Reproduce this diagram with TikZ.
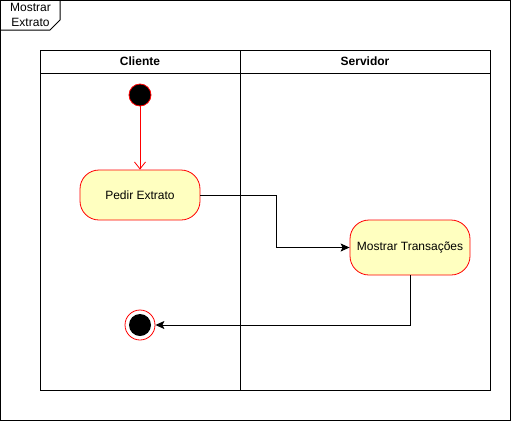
\documentclass[tikz,border=0pt]{standalone}
\usepackage{fontspec}
\setmainfont{Liberation Sans}
\usepackage{xcolor}
\usetikzlibrary{arrows.meta, positioning}

\definecolor{actfill}{HTML}{FFFFC0}
\definecolor{actline}{HTML}{FF0000}

\begin{document}
\begin{tikzpicture}[x=1pt, y=-1pt,
    % Styles
    frame/.style={
        draw=black,
        line width=1pt
    },
    laneheader/.style={
        rectangle,
        draw=black,
        line width=1pt,
        minimum height=23pt,
        inner sep=0pt,
        outer sep=0pt,
        font=\bfseries\fontsize{12}{14}\selectfont
    },
    lanebody/.style={
        rectangle,
        draw=black,
        line width=1pt,
        minimum height=317pt,
        inner sep=0pt,
        outer sep=0pt
    },
    activity/.style={
        rectangle,
        rounded corners=19pt,
        fill=actfill,
        draw=actline,
        line width=0.8pt,
        minimum width=120pt,
        inner sep=0pt,
        align=center,
        font=\fontsize{12}{14}\selectfont
    },
    startstate/.style={
        circle,
        fill=black,
        draw=actline,
        line width=0.8pt,
        minimum size=22pt,
        inner sep=0pt
    },
    endstate/.style={
        circle,
        fill=white,
        draw=actline,
        line width=0.8pt,
        minimum size=30pt,
        inner sep=0pt
    },
    endcore/.style={
        circle,
        fill=black,
        minimum size=22pt,
        inner sep=0pt
    },
    initflow/.style={
        draw=actline,
        line width=0.8pt,
        -{Straight Barb[length=7pt, width=11pt]}
    },
    flow/.style={
        draw=black,
        line width=1pt,
        -{Stealth[length=9pt, width=8pt, inset=2pt]}
    }
]
\useasboundingbox (0,0) rectangle (511,421);

% Frame
\draw[frame] (0.5,0.5) rectangle (510,420);
\draw[frame] (0.5,30) -- (50,30) -- (60,20) -- (60,0.5);
\node[align=center, font=\fontsize{12}{15.5}\selectfont] (framelabel) at (30.5,15) {Mostrar\\Extrato};

% Swimlanes
\node[laneheader, minimum width=200pt] (hcliente) at (140,61.5) {Cliente};
\node[laneheader, minimum width=250pt, right=0pt of hcliente] (hservidor) {Servidor};
\node[lanebody, minimum width=200pt, below=0pt of hcliente] (bcliente) {};
\node[lanebody, minimum width=250pt, below=0pt of hservidor] (bservidor) {};

% Actions
\node[startstate] (inicio) at (140,95) {};
\node[activity, minimum height=50pt] (pedir) at (140,195) {Pedir Extrato};
\node[activity, minimum height=55pt] (mostrar) at (410,247.5) {Mostrar Transações};
\node[endstate] (fim) at (140,325) {};
\node[endcore] (fimcore) at (fim) {};

% Flows
\draw[initflow] (inicio) -- (pedir);
\draw[flow] (pedir.east) -- ++(76,0) |- (mostrar.west);
\draw[flow] (mostrar.south) |- (fim.east);

\end{tikzpicture}
\end{document}
